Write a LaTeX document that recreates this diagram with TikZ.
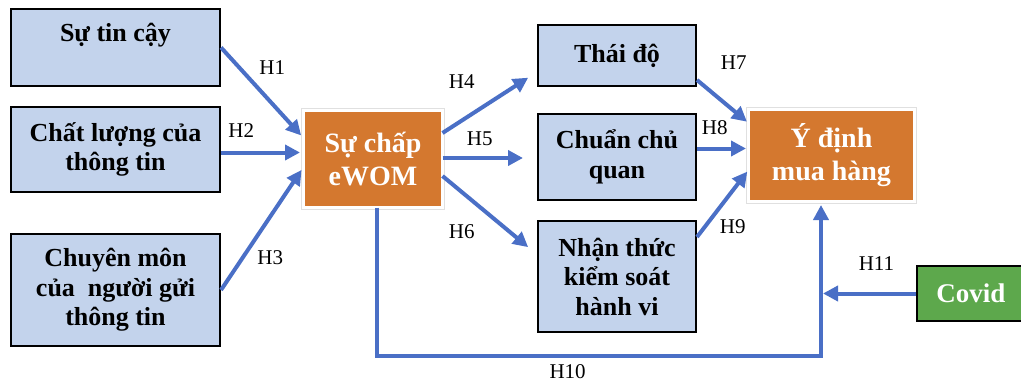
\documentclass[tikz,border=0pt]{standalone}
\usepackage{fontspec}
\setmainfont{Liberation Serif}
\usetikzlibrary{positioning,arrows.meta}
\definecolor{boxblue}{HTML}{C3D3EC}
\definecolor{huborange}{HTML}{D4782F}
\definecolor{covidgreen}{HTML}{5DA84C}
\definecolor{arrblue}{HTML}{4A6FC6}
\tikzset{
  box/.style={draw, line width=2pt, fill=boxblue, align=center, font=\bfseries\fontsize{26}{29.5}\selectfont, inner sep=2pt},
  lbox/.style={box, minimum width=209pt},
  mbox/.style={box, minimum width=158pt},
  hub/.style={fill=huborange, draw=white, line width=3pt, outer sep=0pt, preaction={draw=black!12, line width=4.5pt}, text=white, align=center, font=\bfseries\fontsize{28}{33}\selectfont},
  covidbox/.style={draw, line width=2pt, fill=covidgreen, text=white, font=\bfseries\fontsize{27}{30}\selectfont, minimum width=108pt, minimum height=55pt},
  arr/.style={-{Triangle[length=15pt,width=15pt]}, line width=4pt, draw=arrblue},
  lab/.style={font=\fontsize{21}{24}\selectfont, midway, inner sep=0pt}
}

\begin{document}
\begin{tikzpicture}[x=1pt, y=-1pt, node distance=19pt]
\useasboundingbox (0,0) rectangle (1021,383);
\node[lbox, minimum height=77pt] (trust) at (115.5,47.5) {Sự tin cậy\\~};
\node[lbox, minimum height=85pt, below=19pt of trust] (quality) {Chất lượng của\\thông tin};
\node[lbox, minimum height=112pt, below=40pt of quality] (expert) {Chuyên môn\\của\ \ người gửi\\thông tin};
\node[hub, minimum width=139pt, minimum height=97pt] (ewom) at (373,159) {Sự chấp\\eWOM};
\node[mbox, minimum height=61pt] (attitude) at (617,55.5) {Thái độ};
\node[mbox, minimum height=86pt, below=26pt of attitude] (norm) {Chuẩn chủ\\quan};
\node[mbox, minimum height=111pt, below=19pt of norm] (control) {Nhận thức\\kiểm soát\\hành vi};
\node[hub, minimum width=166pt, minimum height=92pt] (intent) at (831.5,155.5) {Ý định\\mua hàng};
\node[covidbox] (covid) at (971,293.5) {Covid};
\coordinate (loopend) at ([xshift=-10.5pt]intent.south);
% into eWOM
\draw[arr, shorten >=3.5pt] (trust.east) -- node[lab, xshift=10pt, yshift=25pt]{H1} ([yshift=21pt]ewom.west);
\draw[arr, shorten >=3.5pt] ([yshift=-3pt]quality.east) -- node[lab, xshift=-21pt, yshift=21.5pt]{H2} ([yshift=-3pt]quality.east -| ewom.west);
\draw[arr, shorten >=3.5pt] (expert.east) -- node[lab, xshift=8pt, yshift=-29.5pt]{H3} ([yshift=-8pt]ewom.west);
% out of eWOM
\draw[arr, shorten >=10.5pt] ([yshift=26pt]ewom.east) -- node[lab, xshift=-28pt, yshift=20.5pt]{H4} ([yshift=-16.5pt]attitude.west);
\draw[arr, shorten >=14pt] ([yshift=1pt]ewom.east) -- node[lab, xshift=-10pt, yshift=19pt]{H5} ([yshift=1pt]ewom.east -| norm.west);
\draw[arr, shorten >=11.5pt] ([yshift=-17pt]ewom.east) -- node[lab, xshift=-28pt, yshift=-16pt]{H6} ([yshift=22pt]control.west);
% into intention
\draw[arr, shorten >=2pt] ([yshift=-24.5pt]attitude.east) -- node[lab, xshift=11pt, yshift=38.5pt]{H7} ([yshift=32.5pt]intent.west);
\draw[arr, shorten >=2.5pt] ([yshift=8.5pt]norm.east) -- node[lab, xshift=-8pt, yshift=21pt]{H8} ([yshift=8.5pt]norm.east -| intent.west);
\draw[arr, shorten >=2pt] ([yshift=39.5pt]control.east) -- node[lab, xshift=10pt, yshift=-23.5pt]{H9} ([yshift=-14.5pt]intent.west);
\draw[arr, shorten >=3.5pt] ([xshift=3.5pt]ewom.south) -- ++(0,148.5) -| node[lab, pos=.215, yshift=-16pt]{H10} (loopend);
\draw[arr, shorten >=2pt] (covid.west) -- node[lab, xshift=8pt, yshift=29.5pt]{H11} (loopend |- covid.west);
\end{tikzpicture}
\end{document}
